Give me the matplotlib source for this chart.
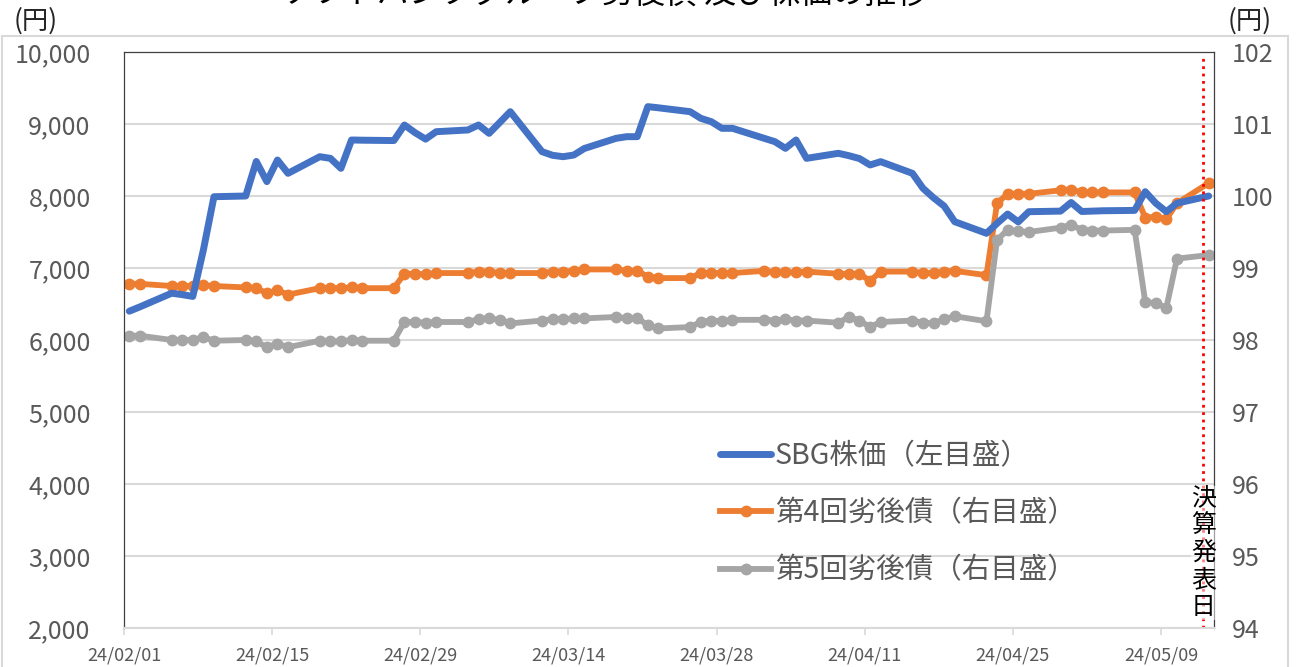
import numpy as np
import pandas as pd
import matplotlib
matplotlib.use('Agg')
import matplotlib.pyplot as plt
import matplotlib.dates as mdates
from matplotlib.ticker import FuncFormatter, MultipleLocator
from matplotlib.patches import Rectangle

plt.rcParams['font.family'] = ['Noto Sans CJK JP', 'DejaVu Sans']

# === データ（営業日ベース） ===
dates = pd.bdate_range('2024-02-01', '2024-05-13')

sbg = [
    6400, 6460, 6650, 6630, 6605, 7250, 7990, 8000, 8480, 8200, 8500, 8315, 8546, 8523, 8384, 8778, 8775, 8770, 8986, 8880, 8790,
    8893, 8917, 8986, 8870, 9020, 9171, 8616, 8565, 8546, 8569, 8660, 8801, 8824, 8824, 9241, 9225, 9171, 9079, 9032, 8940, 8940,
    8801, 8755, 8662, 8778, 8523, 8593, 8560, 8520, 8431, 8477, 8315, 8107, 7975, 7860, 7643, 7482, 7620, 7750, 7640, 7782, 7790, 7910,
    7785, 7790, 7795, 7800, 8060, 7900, 7782, 7900, 8000,
]
bond4 = [
    98.78, 98.78, 98.75, 98.75, 98.75, 98.76, 98.75, 98.73, 98.72, 98.65, 98.69, 98.63, 98.72, 98.72, 98.72, 98.73, 98.72, 98.72, 98.92, 98.92, 98.91,
    98.93, 98.93, 98.95, 98.95, 98.93, 98.93, 98.93, 98.95, 98.95, 98.96, 98.98, 98.98, 98.96, 98.96, 98.88, 98.86, 98.86, 98.93, 98.93, 98.93, 98.93,
    98.96, 98.94, 98.94, 98.94, 98.95, 98.92, 98.92, 98.92, 98.82, 98.95, 98.95, 98.93, 98.93, 98.95, 98.96, 98.90, 99.90, 100.03, 100.03, 100.03, 100.08, 100.09,
    100.05, 100.05, 100.05, 100.05, 99.70, 99.71, 99.68, 99.90, 100.18,
]
bond5 = [
    98.06, 98.06, 98.00, 98.00, 98.00, 98.04, 97.99, 98.00, 97.98, 97.90, 97.95, 97.90, 97.99, 97.98, 97.98, 98.00, 97.99, 97.99, 98.25, 98.25, 98.24,
    98.25, 98.25, 98.29, 98.30, 98.28, 98.23, 98.27, 98.29, 98.29, 98.30, 98.30, 98.32, 98.30, 98.30, 98.21, 98.16, 98.18, 98.25, 98.27, 98.26, 98.28,
    98.28, 98.27, 98.29, 98.27, 98.27, 98.24, 98.32, 98.27, 98.18, 98.25, 98.27, 98.24, 98.23, 98.29, 98.33, 98.26, 99.39, 99.53, 99.51, 99.50, 99.56, 99.60,
    99.53, 99.52, 99.52, 99.53, 98.53, 98.51, 98.45, 99.13, 99.18,
]
labels = ['SBG株価（左目盛）', '第4回劣後債（右目盛）', '第5回劣後債（右目盛）']
title = 'ソフトバンクグループ劣後債 及び株価の推移'
event_date = pd.Timestamp('2024-05-13')
event_label = '決算発表日'

# Excelの日付軸と同じく、点は日の中央に置く
x = dates + pd.Timedelta(hours=12)

W, H = 1298, 667
fig = plt.figure(figsize=(W / 100, H / 100), dpi=100)
ax = fig.add_axes([124 / W, 1 - 628 / H, 1090 / W, 576 / H])
ax2 = ax.twinx()

# 株価を前面に
ax.set_zorder(ax2.get_zorder() + 1)
ax.patch.set_visible(False)

gray_txt = '#595959'

l1, = ax.plot(x, sbg, color='#4472C4', lw=5, solid_joinstyle='round',
              solid_capstyle='round', label=labels[0])
l2, = ax2.plot(x, bond4, color='#ED7D31', lw=4.2, marker='o', ms=7.5,
               solid_joinstyle='round', label=labels[1])
l3, = ax2.plot(x, bond5, color='#A5A5A5', lw=4.2, marker='o', ms=7.5,
               solid_joinstyle='round', label=labels[2])

# 軸
ax.set_xlim(pd.Timestamp('2024-02-01'), pd.Timestamp('2024-05-14'))
ax.set_ylim(2000, 10000)
ax2.set_ylim(94, 102)
ax.yaxis.set_major_locator(MultipleLocator(1000))
ax2.yaxis.set_major_locator(MultipleLocator(1))
ax.yaxis.set_major_formatter(FuncFormatter(lambda v, p: f'{int(v):,}'))

ax.set_xticks(pd.date_range('2024-02-01', '2024-05-13', freq='14D'))
ax.xaxis.set_major_formatter(mdates.DateFormatter('%y/%m/%d'))

ax.tick_params(axis='x', length=5, width=1.2, color='#D9D9D9', labelsize=13,
               labelcolor=gray_txt, pad=8)
ax.tick_params(axis='y', length=0, labelsize=18, labelcolor=gray_txt, pad=24)
ax2.tick_params(axis='y', length=0, labelsize=18, labelcolor=gray_txt, pad=13)

ax2.yaxis.grid(True, color='#D9D9D9', lw=1.5)
ax2.set_axisbelow(True)

for s in ['top', 'left', 'right']:
    ax.spines[s].set_color('#404040')
    ax.spines[s].set_linewidth(0.9)
ax.spines['bottom'].set_color('#D9D9D9')
ax.spines['bottom'].set_linewidth(1.5)
for s in ax2.spines.values():
    s.set_visible(False)

# 決算発表日
ax.axvline(event_date, ymin=0, ymax=0.99, color='red', ls=':', lw=2)
ax.text(event_date, 3040, '\n'.join(event_label), ha='center', va='center',
        fontsize=18, linespacing=1.05, color='black',
        bbox=dict(facecolor='white', alpha=0.5, edgecolor='none', pad=0))

# 凡例
leg = ax.legend(handles=[l1, l2, l3], loc='upper left',
                bbox_to_anchor=(0.547, 0.324), frameon=False, fontsize=20.5,
                handlelength=1.8, handletextpad=0.12, labelspacing=0.95,
                borderpad=0, borderaxespad=0)
for t in leg.get_texts():
    t.set_color(gray_txt)

# タイトル・単位
fig.text(605 / W, 1 + 6 / H, title, ha='center', va='center', fontsize=23)
fig.text(36 / W, 1 - 21 / H, '(円)', ha='center', va='center', fontsize=19, color='#262626')
fig.text(1250 / W, 1 - 21 / H, '(円)', ha='center', va='center', fontsize=19, color='#262626')

# 外枠
fig.patches.append(Rectangle((2 / W, -0.01), 1286 / W, 1 - 36 / H + 0.01,
                             transform=fig.transFigure, fill=False,
                             edgecolor='#D9D9D9', lw=1.5))

fig.savefig('out.png', dpi=100)
